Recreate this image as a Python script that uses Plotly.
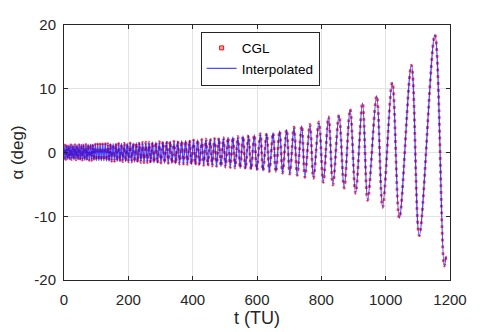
# external
import plotly.graph_objects as go


##########
# Inputs #
##########

# Extrema of the oscillation (t in TU, alpha in deg)
PEAK_T = [
    3.0, 9.05, 15.2, 21.45, 27.8, 34.25, 40.8, 47.5, 54.3, 61.2, 68.2, 75.3, 82.5,
    89.8, 97.3, 104.9, 112.6, 120.4, 128.3, 136.4, 144.6, 152.9, 161.4, 170.0, 178.7,
    187.6, 196.6, 205.8, 215.2, 224.7, 234.4, 244.3, 254.4, 264.6, 275.0, 285.7,
    296.5, 307.5, 318.8, 330.2, 341.9, 353.7,
    365.8, 378.0, 390.4, 402.9, 415.5, 428.3, 441.3, 454.5, 468.0, 481.7, 495.7,
    510.0, 525.0, 540.5, 556.5, 573.5,
    591.5, 610.5, 630.0, 650.0, 670.5, 692.0, 715.0, 739.0, 764.5, 792.5, 822.5,
    855.0, 889.5, 928.0, 972.0, 1020.5, 1080.0, 1153.0,
]
PEAK_ALPHA = [
    1.18, 1.20, 1.21, 1.22, 1.22, 1.24, 1.25, 1.25, 1.27, 1.28, 1.28, 1.30, 1.31,
    1.32, 1.32, 1.34, 1.35, 1.36, 1.37, 1.38, 1.39, 1.40, 1.41, 1.43, 1.44,
    1.46, 1.48, 1.50, 1.52, 1.54, 1.57, 1.59, 1.61, 1.63, 1.66, 1.68,
    1.70, 1.73, 1.75, 1.78, 1.80, 1.83,
    1.86, 1.90, 1.94, 1.98, 2.02, 2.07, 2.12, 2.17, 2.22, 2.28, 2.34,
    2.40, 2.46, 2.53, 2.60, 2.70,
    2.80, 2.95, 3.00, 3.10, 3.40, 3.60, 4.00, 4.20, 4.40, 4.80, 5.60,
    5.90, 6.80, 7.80, 8.90, 11.0, 13.7, 18.5,
]
TROUGH_T = [
    0.0,
    5.7, 11.8, 18.0, 24.3, 30.7, 37.2, 43.8, 50.6, 57.4, 64.4, 71.4, 78.5, 85.8,
    93.2, 100.7, 108.4, 116.1, 124.0, 131.9, 140.1, 148.3, 156.7, 165.3, 173.9, 182.7,
    191.7, 200.7, 210.0, 219.5, 229.1, 238.9, 248.8, 259.0, 269.3, 279.8, 290.6,
    301.5, 312.6, 324.0, 335.5, 347.2, 359.1,
    371.3, 383.6, 396.0, 408.6, 421.3, 434.2, 447.2, 460.6, 474.2, 488.0, 502.1,
    516.8, 532.0, 547.7, 564.2, 581.6,
    599.5, 618.7, 638.4, 658.6, 679.5, 702.0, 725.0, 749.0, 775.5, 806.0, 836.0,
    871.0, 906.5, 944.0, 990.5, 1042.5, 1104.5, 1182.0,
]
TROUGH_ALPHA = [
    -1.10,
    -1.10, -1.11, -1.12, -1.13, -1.15, -1.16, -1.17, -1.18, -1.20, -1.21, -1.22, -1.24, -1.25,
    -1.26, -1.28, -1.29, -1.31, -1.32, -1.34, -1.35, -1.37, -1.39, -1.40, -1.42, -1.44,
    -1.46, -1.48, -1.50, -1.52, -1.54, -1.56, -1.58, -1.60, -1.62, -1.64, -1.66,
    -1.68, -1.70, -1.72, -1.74, -1.77, -1.80,
    -1.83, -1.87, -1.91, -1.95, -1.99, -2.03, -2.08, -2.13, -2.18, -2.23, -2.29,
    -2.35, -2.42, -2.50, -2.58, -2.68,
    -2.80, -2.90, -3.00, -3.10, -3.25, -3.40, -3.60, -3.90, -4.05, -4.70, -5.10,
    -5.60, -6.40, -7.50, -8.60, -10.3, -13.05, -17.8,
]
END_T = [1188.0]
END_ALPHA = [-16.2]

X_TICKS = [0, 200, 400, 600, 800, 1000, 1200]
Y_TICKS = [-20, -10, 0, 10, 20]
Y_TICK_LABELS = ["-20", "-10", "0", "10", "20"]

######################
# Maps and constants #
######################

CGL_COLOUR = "rgba(255,0,0,0.68)"
INTERP_COLOUR = "rgba(0,0,255,0.7)"
AXIS_COLOUR = "#262626"
GRID_COLOUR = "#e3e3e3"
FONT = "Liberation Sans, Arial, sans-serif"

# merge extrema in time order
points = sorted(
    list(zip(PEAK_T, PEAK_ALPHA))
    + list(zip(TROUGH_T, TROUGH_ALPHA))
    + list(zip(END_T, END_ALPHA))
)
t_values = [p[0] for p in points]
alpha_values = [p[1] for p in points]


##########
# Figure #
##########

figure = go.Figure()

# CGL nodes along the curve
figure.add_trace(
    go.Scatter(
        x=t_values,
        y=alpha_values,
        mode="lines",
        line={"color": CGL_COLOUR, "width": 2.8, "shape": "spline", "dash": "2.8px,4px"},
        showlegend=False,
        hoverinfo="skip",
    )
)

# Interpolated curve
figure.add_trace(
    go.Scatter(
        x=t_values,
        y=alpha_values,
        mode="lines",
        line={"color": INTERP_COLOUR, "width": 1.3, "shape": "spline"},
        name="Interpolated",
        legendrank=2,
    )
)

# legend entry for CGL
figure.add_trace(
    go.Scatter(
        x=[None],
        y=[None],
        mode="markers",
        marker={
            "symbol": "square",
            "size": 4,
            "color": "rgba(255,120,120,0.6)",
            "line": {"color": "red", "width": 1},
        },
        name="CGL",
        legendrank=1,
    )
)

axis_common = dict(
    showline=True,
    linecolor=AXIS_COLOUR,
    linewidth=1,
    mirror="ticks",
    ticks="inside",
    ticklen=4,
    tickcolor=AXIS_COLOUR,
    showgrid=True,
    gridcolor=GRID_COLOUR,
    gridwidth=1,
    zeroline=False,
    automargin=False,
    tickfont={"size": 15, "color": AXIS_COLOUR, "family": FONT},
)

figure.update_xaxes(
    range=[0, 1200],
    tickvals=X_TICKS,
    ticklabelstandoff=6,
    title={"text": "t (TU)", "font": {"size": 18, "color": AXIS_COLOUR, "family": FONT}, "standoff": 2},
    **axis_common,
)
figure.update_yaxes(
    range=[-20, 20],
    tickvals=Y_TICKS,
    ticktext=Y_TICK_LABELS,
    ticklabelstandoff=4,
    title={"text": "α (deg)", "font": {"size": 17, "color": AXIS_COLOUR, "family": FONT}, "standoff": 6},
    **axis_common,
)

figure.update_layout(
    width=498,
    height=332,
    margin={"l": 64, "r": 48, "t": 25, "b": 52, "autoexpand": False},
    plot_bgcolor="white",
    paper_bgcolor="white",
    font={"family": FONT, "color": AXIS_COLOUR},
    legend={
        "x": 0.354,
        "y": 0.974,
        "xanchor": "left",
        "yanchor": "top",
        "bgcolor": "white",
        "bordercolor": AXIS_COLOUR,
        "borderwidth": 1,
        "font": {"size": 13.5, "color": "black", "family": FONT},
        "itemwidth": 30,
        "tracegroupgap": 0,
    },
)

# the page body has a default 8px margin; remove it so the figure fills the window
figure.write_html(
    "out.html",
    config={"displayModeBar": False},
    post_script="document.body.style.margin = '0';",
)
